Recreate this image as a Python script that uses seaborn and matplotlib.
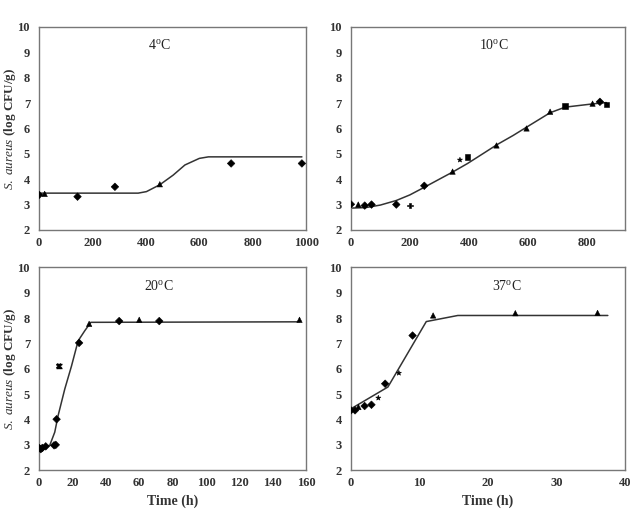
import matplotlib
matplotlib.use("Agg")
import matplotlib.pyplot as plt
import seaborn as sns
import pandas as pd

t4 = [0, 21, 144, 284, 452, 719, 984]
y4 = [3.38, 3.42, 3.31, 3.70, 3.80, 4.62, 4.62]
m4 = ["D", "^", "D", "D", "^", "D", "D"]
fit_t4 = [0, 371, 402, 452, 502, 546, 600, 634, 984]
fit_y4 = [3.45, 3.45, 3.51, 3.78, 4.16, 4.56, 4.82, 4.88, 4.88]

t10 = [0, 25, 47, 70, 154, 201, 249, 345, 370, 396, 494, 596, 676, 727, 820, 845, 867]
y10 = [3.01, 3.00, 2.96, 3.00, 3.00, 2.96, 3.74, 4.30, 4.76, 4.87, 5.33, 6.00, 6.66, 6.89, 6.98, 7.05, 6.95]
m10 = ["D", "^", "D", "D", "D", "P", "D", "^", "*", "s", "^", "^", "^", "s", "^", "D", "s"]
fit_t10 = [0, 50, 100, 154, 200, 249, 300, 345, 396, 450, 497, 550, 596, 676, 727, 822, 867]
fit_y10 = [2.86, 2.88, 2.98, 3.16, 3.38, 3.68, 4.00, 4.28, 4.62, 5.02, 5.37, 5.72, 6.05, 6.62, 6.84, 6.97, 7.02]

t20 = [0, 1, 2, 4, 9, 10, 10.5, 12, 24, 30, 48, 60, 72, 156]
y20 = [2.88, 2.83, 2.88, 2.94, 2.98, 3.00, 4.01, 6.10, 7.02, 7.77, 7.88, 7.93, 7.88, 7.93]
m20 = ["D", "D", "D", "D", "D", "D", "D", "X", "D", "^", "D", "^", "D", "^"]
fit_t20 = [0, 6.4, 9.4, 11.4, 15.4, 19.4, 23.4, 27.4, 31, 156]
fit_y20 = [2.88, 2.98, 3.50, 4.15, 5.20, 6.10, 7.10, 7.50, 7.83, 7.85]

t37 = [0, 0.6, 1.1, 2, 3, 4, 5, 7, 9, 12, 24, 36]
y37 = [4.36, 4.36, 4.49, 4.53, 4.58, 4.85, 5.41, 5.83, 7.31, 8.10, 8.19, 8.20]
m37 = ["D", "D", "^", "D", "D", "*", "D", "*", "D", "^", "^", "^"]
fit_t37 = [0, 5.4, 11.0, 15.6, 37.5]
fit_y37 = [4.42, 5.28, 7.86, 8.10, 8.10]

panels = [
    ("4", t4, y4, m4, fit_t4, fit_y4, (0, 1000), [0, 200, 400, 600, 800, 1000], 0.45),
    ("10", t10, y10, m10, fit_t10, fit_y10, (0, 930), [0, 200, 400, 600, 800], 0.52),
    ("20", t20, y20, m20, fit_t20, fit_y20, (0, 160), list(range(0, 161, 20)), 0.45),
    ("37", t37, y37, m37, fit_t37, fit_y37, (0, 40), [0, 10, 20, 30, 40], 0.57),
]

sns.set_style("white")
plt.rcParams["font.family"] = ["Liberation Serif", "DejaVu Serif"]
plt.rcParams["mathtext.fontset"] = "custom"
plt.rcParams["mathtext.rm"] = "Liberation Serif"
plt.rcParams["mathtext.it"] = "Liberation Serif:italic"
plt.rcParams["mathtext.bf"] = "Liberation Serif:bold"

fig = plt.figure(figsize=(6.3, 5.19), dpi=100)
boxes = [
    [0.062, 0.557, 0.424, 0.391],
    [0.557, 0.557, 0.435, 0.391],
    [0.062, 0.094, 0.424, 0.391],
    [0.557, 0.094, 0.435, 0.391],
]

for i, (temp, t, y, mk, ft, fy, xlim, xticks, tx) in enumerate(panels):
    ax = fig.add_axes(boxes[i])
    sns.lineplot(x=ft, y=fy, ax=ax, color="#333333", lw=1.1, estimator=None, sort=False)
    df = pd.DataFrame({"t": t, "y": y, "m": mk})
    markers = {k: k for k in df["m"].unique()}
    sns.scatterplot(data=df, x="t", y="y", style="m", markers=markers, ax=ax,
                    color="black", s=15, edgecolor="black", linewidth=0.4, legend=False, zorder=3)
    if temp == "20":
        ax.errorbar([12], [6.10], yerr=[0.08], fmt="none", ecolor="black", capsize=2, lw=0.8)
    ax.set_xlim(*xlim)
    ax.set_ylim(2, 10)
    ax.set_xticks(xticks)
    ax.set_yticks(range(2, 11))
    ax.tick_params(axis="x", direction="in", length=3, width=0.8, colors="#555555",
                   labelcolor="#333333", labelsize=9, pad=5)
    ax.tick_params(axis="y", direction="inout", length=5, width=0.8, colors="#555555",
                   labelcolor="#333333", labelsize=9, pad=4)
    for lab in ax.get_xticklabels() + ax.get_yticklabels():
        lab.set_fontweight("bold")
    for sp in ax.spines.values():
        sp.set_color("#777777")
        sp.set_linewidth(1.0)
    ax.set_xlabel("Time (h)" if i >= 2 else "", fontsize=10, fontweight="bold", color="#333333")
    if i % 2 == 0:
        ax.set_ylabel(r"$\it{S.\ aureus}$ (log CFU/g)", fontsize=9.5, fontweight="bold", color="#333333")
        ax.yaxis.set_label_coords(-0.08, 0.5)
    else:
        ax.set_ylabel("")
    ax.text(tx, 0.91, temp + r"$^{\rm o}$C", transform=ax.transAxes, fontsize=10,
            ha="center", va="center", color="#222222")

fig.savefig("out.png", dpi=100)
